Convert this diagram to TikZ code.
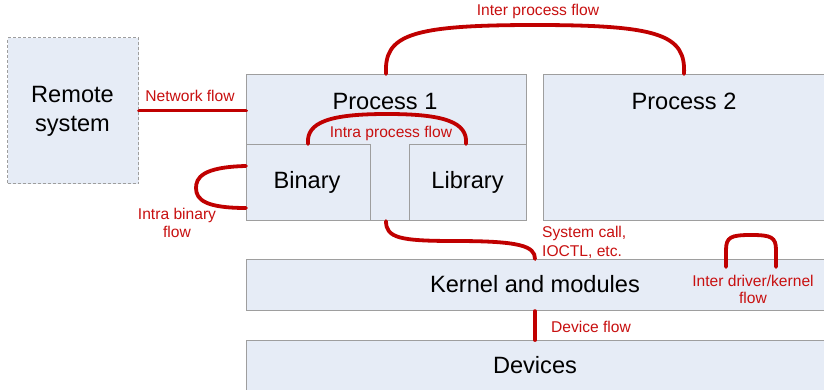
\documentclass[tikz,border=0pt]{standalone}
\usepackage{fontspec}
\setmainfont{Liberation Sans}
\usetikzlibrary{calc}
\definecolor{boxfill}{RGB}{230,236,246}
\definecolor{boxline}{RGB}{158,158,158}
\definecolor{flowred}{RGB}{192,0,0}
\definecolor{labred}{RGB}{200,16,16}
\tikzset{
  box/.style={draw=boxline, line width=1.1pt, fill=boxfill, inner sep=0pt, anchor=north west},
  remotebox/.style={box, dashed, dash pattern=on 3pt off 2pt},
  big/.style={font=\fontsize{23.6}{28}\selectfont, anchor=base, inner sep=0pt},
  lab/.style={font=\fontsize{15.6}{18}\selectfont, text=labred, anchor=base, inner sep=0pt},
  flow/.style={draw=flowred, line width=3.8pt, line cap=round}
}
\begin{document}
\begin{tikzpicture}[x=1pt,y=-1pt]
\clip (0,0) rectangle (824,390);
\fill[white] (0,0) rectangle (824,390);
% boxes
\node[remotebox, minimum width=131pt, minimum height=146pt] (remote) at (7,37) {};
\node[box, minimum width=280pt, minimum height=146pt] (p1) at (246,74) {};
\node[box, minimum width=124pt, minimum height=76pt] (bin) at (246,144) {};
\node[box, minimum width=117pt, minimum height=76pt] (lib) at (409,144) {};
\node[box, minimum width=300pt, minimum height=146pt] (p2) at (543,74) {};
\node[box, minimum width=600pt, minimum height=51pt] (kern) at (246,259) {};
\node[box, minimum width=600pt, minimum height=70pt] (dev) at (246,340) {};
% box texts
\node[big] (tremote1) at (72.5,103) {Remote};
\node[big] (tremote2) at (72.5,132) {system};
\node[big] (tp1) at (385,110) {Process 1};
\node[big] (tp2) at (684,110) {Process 2};
\node[big] (tbin) at (307,189) {Binary};
\node[big] (tlib) at (467.5,189) {Library};
\node[big] (tkern) at (535,292) {Kernel and modules};
\node[big] (tdev) at (535,373) {Devices};
% flows
\draw[flow] (remote.east) -- (remote.east -| p1.west);
\draw[flow] ([xshift=140pt]p1.north west) .. controls (384,35) and (410,25) .. (535,25)
   .. controls (660,25) and (686,35) .. ([xshift=141pt]p2.north west);
\draw[flow] ([xshift=62pt]bin.north west) .. controls (306,122) and (330,114) .. (387,114)
   .. controls (444,114) and (468,122) .. ([xshift=57pt]lib.north west);
\draw[flow] ([yshift=-22pt]bin.north west) .. controls (202,167) and (196,178) .. (196,188)
   .. controls (196,200) and (206,208) .. ([yshift=-64pt]bin.north west);
\draw[flow] ([xshift=140pt]p1.south west) .. controls (386,238) and (400,241) .. (455,241)
   .. controls (520,241) and (535,246) .. ([xshift=289pt]kern.north west);
\draw[flow] ([xshift=480pt,yshift=-8pt]kern.north west) -- (726,250) .. controls (726,237) and (731,235) .. (751,235)
   .. controls (771,235) and (776,237) .. (776,250) -- ([xshift=530pt,yshift=-8pt]kern.north west);
\draw[flow] ([xshift=289pt]kern.south west) -- ([xshift=289pt]dev.north west);
% flow labels
\node[lab] (lnet) at (190,102) {Network flow};
\node[lab] (linter) at (538,16) {Inter process flow};
\node[lab] (lintra) at (391,138) {Intra process flow};
\node[lab] (lbin1) at (177,219) {Intra binary};
\node[lab] (lbin2) at (177,237) {flow};
\node[lab, anchor=base west] (lsys1) at (542,237) {System call,};
\node[lab, anchor=base west] (lsys2) at (542,256) {IOCTL, etc.};
\node[lab] (ldrv1) at (753,286) {Inter driver/kernel};
\node[lab] (ldrv2) at (753,303) {flow};
\node[lab] (ldev) at (591,332) {Device flow};
\end{tikzpicture}
\end{document}
